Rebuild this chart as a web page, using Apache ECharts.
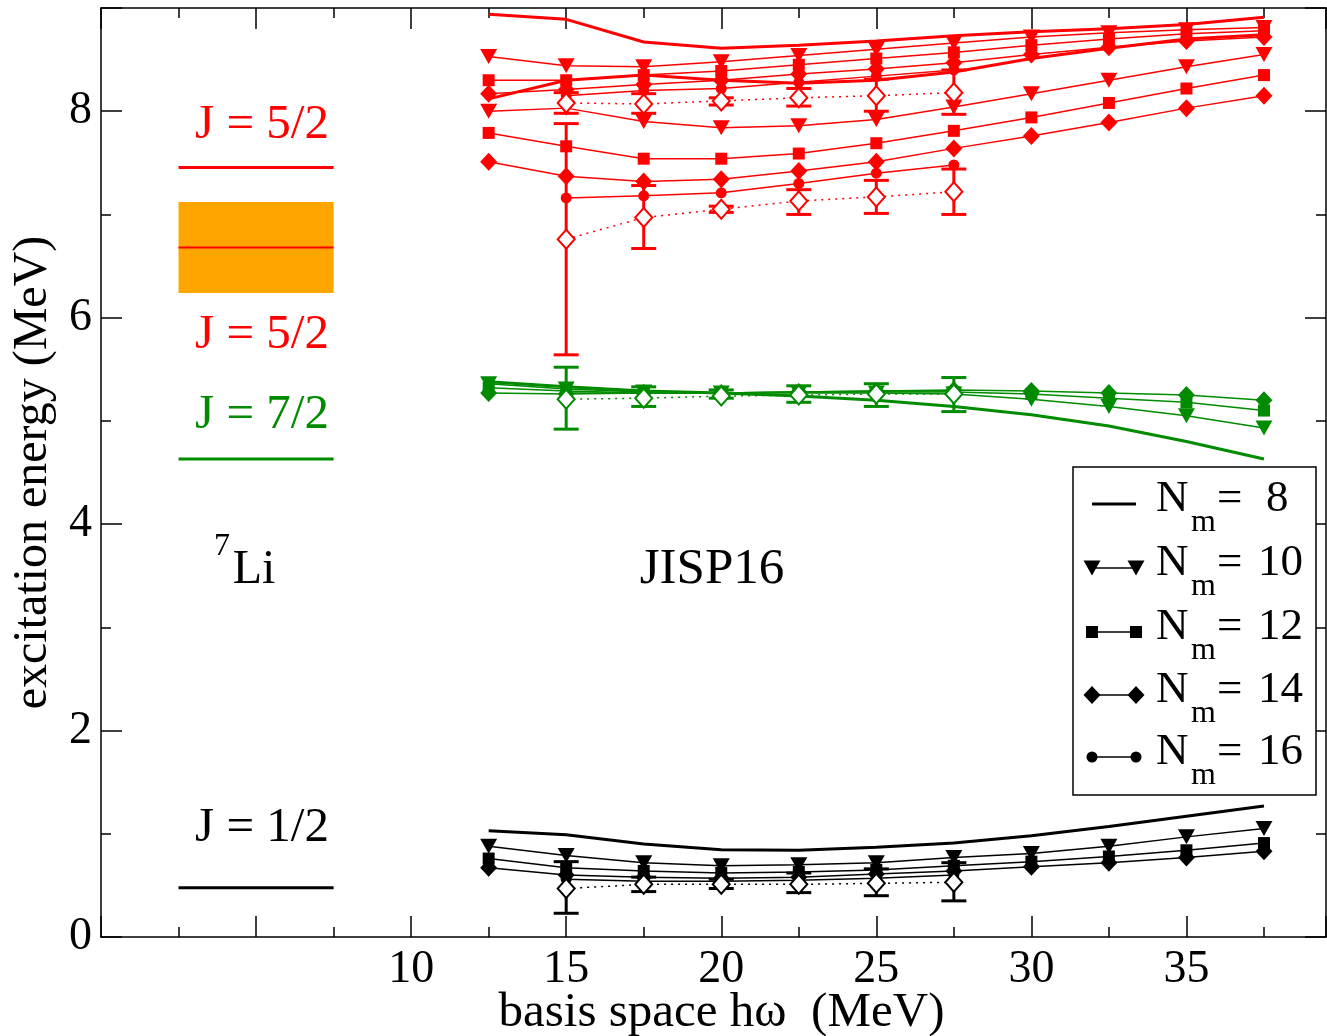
<!DOCTYPE html>
<html><head><meta charset="utf-8">
<script src="https://cdn.jsdelivr.net/npm/echarts@6/dist/echarts.min.js"></script>
<style>html,body{margin:0;padding:0;background:#fff}#c{width:1327px;height:1036px}</style>
</head><body><div id="c"></div>
<script>
// ---- data ----
const hw = [12.5, 15, 17.5, 20, 22.5, 25, 27.5, 30, 32.5, 35, 37.5];
const hw16 = [15, 17.5, 20, 22.5, 25, 27.5];
const xTicks = [10, 15, 20, 25, 30, 35];
const yTicks = [0, 2, 4, 6, 8];

// J=1/2 (black)
const blk8  = [1.03, 0.99, 0.90, 0.845, 0.84, 0.87, 0.91, 0.98, 1.07, 1.17, 1.27];
const blk10 = [0.88, 0.79, 0.72, 0.69, 0.70, 0.72, 0.77, 0.81, 0.88, 0.97, 1.05];
const blk12 = [0.76, 0.67, 0.64, 0.62, 0.63, 0.65, 0.69, 0.73, 0.78, 0.84, 0.91];
const blk14 = [0.67, 0.60, 0.58, 0.57, 0.58, 0.61, 0.64, 0.68, 0.72, 0.77, 0.83];
const blk16 = [0.56, 0.54, 0.54, 0.55, 0.57, 0.60];
const blkEx   = [0.47, 0.51, 0.51, 0.51, 0.52, 0.53];
const blkExLo = [0.23, 0.44, 0.47, 0.43, 0.40, 0.35];
const blkExHi = [0.73, 0.58, 0.56, 0.62, 0.66, 0.72];

// J=7/2 (green)
const grn8  = [5.38, 5.33, 5.29, 5.27, 5.24, 5.20, 5.14, 5.06, 4.95, 4.80, 4.63];
const grn10 = [5.36, 5.31, 5.28, 5.27, 5.27, 5.27, 5.26, 5.21, 5.14, 5.05, 4.93];
const grn12 = [5.32, 5.29, 5.27, 5.27, 5.28, 5.28, 5.28, 5.26, 5.22, 5.18, 5.10];
const grn14 = [5.27, 5.26, 5.27, 5.27, 5.28, 5.29, 5.30, 5.29, 5.27, 5.25, 5.20];
const grn16 = [5.27, 5.27, 5.27, 5.28, 5.29, 5.29];
const grnEx   = [5.21, 5.22, 5.24, 5.25, 5.26, 5.26];
const grnExLo = [4.92, 5.14, 5.22, 5.18, 5.14, 5.09];
const grnExHi = [5.52, 5.33, 5.30, 5.34, 5.36, 5.42];

// J=5/2 upper state (red)
const redA8  = [8.94, 8.89, 8.67, 8.61, 8.64, 8.68, 8.73, 8.77, 8.80, 8.84, 8.91];
const redA10 = [8.53, 8.44, 8.43, 8.48, 8.54, 8.60, 8.66, 8.72, 8.76, 8.79, 8.81];
const redA12 = [8.30, 8.30, 8.35, 8.39, 8.45, 8.51, 8.57, 8.64, 8.70, 8.75, 8.78];
const redA14 = [8.17, 8.21, 8.26, 8.30, 8.36, 8.41, 8.47, 8.55, 8.62, 8.68, 8.72];
const redA16 = [8.15, 8.20, 8.22, 8.28, 8.34, 8.40];
const redAEx   = [8.08, 8.07, 8.10, 8.13, 8.15, 8.18];
const redAExLo = [7.98, 7.98, 8.06, 8.05, 8.00, 7.97];
const redAExHi = [8.18, 8.17, 8.13, 8.22, 8.31, 8.40];

// J=5/2 lower state (red)
const redB8  = [8.12, 8.30, 8.35, 8.30, 8.27, 8.30, 8.38, 8.51, 8.61, 8.70, 8.74];
const redB10 = [8.00, 8.03, 7.90, 7.84, 7.86, 7.92, 8.04, 8.17, 8.30, 8.43, 8.55];
const redB12 = [7.79, 7.66, 7.54, 7.54, 7.59, 7.69, 7.81, 7.94, 8.08, 8.22, 8.35];
const redB14 = [7.51, 7.37, 7.32, 7.34, 7.42, 7.51, 7.64, 7.76, 7.89, 8.03, 8.15];
const redB16 = [7.16, 7.18, 7.21, 7.30, 7.40, 7.48];
const redBEx   = [6.76, 6.97, 7.05, 7.13, 7.17, 7.22];
const redBExLo = [5.64, 6.67, 7.02, 7.00, 7.01, 7.00];
const redBExHi = [7.88, 7.28, 7.08, 7.24, 7.33, 7.44];

// experiment (7Li)
const expX = [2.5, 7.5];
const expE = [0.478, 4.630, 6.680, 7.454];
const expColor = ['#000000', '#008b00', '#ff0000', '#ff0000'];
const expWidth = [3, 3, 2, 3];
const expBand = [6.24, 7.12];

// ---- build ----
const RED = '#ff0000', GRN = '#008b00', BLK = '#000000';
const FONT = '"Liberation Serif", "Times New Roman", serif';
const series = [];

series.push({
  type: 'custom', z: 1, silent: true,
  data: [[expX[0], expX[1], expBand[0], expBand[1]]],
  renderItem: function (p, api) {
    const a = api.coord([api.value(0), api.value(3)]);
    const b = api.coord([api.value(1), api.value(2)]);
    return { type: 'rect', shape: { x: a[0], y: a[1], width: b[0] - a[0], height: b[1] - a[1] },
      style: { fill: '#ffa500' } };
  }
});
expE.forEach(function (e, i) {
  series.push({ type: 'line', z: 3, symbol: 'none', silent: true,
    data: [[expX[0], e], [expX[1], e]],
    lineStyle: { color: expColor[i], width: expWidth[i] } });
});

function curve(xv, yv, color, kind) {
  const s = { type: 'line', data: xv.map(function (x, i) { return [x, yv[i]]; }),
    itemStyle: { color: color }, lineStyle: { color: color, width: 1.5 }, z: 4, silent: true };
  if (kind === 8) { s.symbol = 'none'; s.lineStyle.width = 3; }
  if (kind === 10) { s.symbol = 'triangle'; s.symbolRotate = 180; s.symbolSize = [17, 15]; }
  if (kind === 12) { s.symbol = 'rect'; s.symbolSize = 12; }
  if (kind === 14) { s.symbol = 'diamond'; s.symbolSize = [17, 18]; }
  if (kind === 16) { s.symbol = 'circle'; s.symbolSize = 11; }
  if (kind === 'ex') {
    s.symbol = 'emptyDiamond'; s.symbolSize = [17, 19]; s.z = 6;
    s.itemStyle = { color: color, borderColor: color, borderWidth: 2.5 };
    s.lineStyle = { color: color, width: 1.5, type: [2, 5] };
  }
  series.push(s);
}
function errbars(xv, lo, hi, color) {
  series.push({ type: 'custom', z: 5, silent: true,
    data: xv.map(function (x, i) { return [x, lo[i], hi[i]]; }),
    renderItem: function (p, api) {
      const a = api.coord([api.value(0), api.value(1)]);
      const b = api.coord([api.value(0), api.value(2)]);
      const w = 12.5, st = { stroke: color, lineWidth: 3 };
      return { type: 'group', children: [
        { type: 'line', shape: { x1: a[0], y1: a[1], x2: b[0], y2: b[1] }, style: st },
        { type: 'line', shape: { x1: a[0] - w, y1: a[1], x2: a[0] + w, y2: a[1] }, style: st },
        { type: 'line', shape: { x1: b[0] - w, y1: b[1], x2: b[0] + w, y2: b[1] }, style: st }
      ] };
    }
  });
}
function group(color, d8, d10, d12, d14, d16, ex, lo, hi) {
  curve(hw, d8, color, 8);
  curve(hw, d10, color, 10);
  curve(hw, d12, color, 12);
  curve(hw, d14, color, 14);
  curve(hw16, d16, color, 16);
  errbars(hw16, lo, hi, color);
  curve(hw16, ex, color, 'ex');
}
group(BLK, blk8, blk10, blk12, blk14, blk16, blkEx, blkExLo, blkExHi);
group(GRN, grn8, grn10, grn12, grn14, grn16, grnEx, grnExLo, grnExHi);
group(RED, redA8, redA10, redA12, redA14, redA16, redAEx, redAExLo, redAExHi);
group(RED, redB8, redB10, redB12, redB14, redB16, redBEx, redBExLo, redBExHi);

// ---- legend & annotations (graphic) ----
const graphic = [];
function txt(s, x, y, size, color, align) {
  graphic.push({ type: 'text', x: x, y: y, z: 100, silent: true,
    style: { text: s, font: size + 'px ' + FONT, fill: color,
      align: align || 'center', textAlign: align || 'center',
      verticalAlign: 'middle', textVerticalAlign: 'middle' } });
}
txt('J = 5/2', 262, 125, 49, RED);
txt('J = 5/2', 262, 335, 49, RED);
txt('J = 7/2', 262, 415, 49, GRN);
txt('J = 1/2', 262, 828, 49, BLK);
txt('7', 222, 547, 32, BLK);
txt('Li', 254, 570, 48, BLK);
txt('JISP16', 712, 570, 51, BLK);

graphic.push({ type: 'rect', z: 100, silent: true, shape: { x: 1073, y: 467, width: 243, height: 328 },
  style: { fill: '#fff', stroke: '#000', lineWidth: 1.5 } });
const legNums = ['8', '10', '12', '14', '16'];
const legKinds = [8, 10, 12, 14, 16];
const legRowY = [499, 563, 627, 690, 752];
function legSym(kind, cx, cy) {
  if (kind === 10) return { type: 'polygon', shape: { points: [[cx - 8.5, cy - 7.5], [cx + 8.5, cy - 7.5], [cx, cy + 7.5]] } };
  if (kind === 12) return { type: 'rect', shape: { x: cx - 6, y: cy - 6, width: 12, height: 12 } };
  if (kind === 14) return { type: 'polygon', shape: { points: [[cx - 8.5, cy], [cx, cy - 9], [cx + 8.5, cy], [cx, cy + 9]] } };
  return { type: 'circle', shape: { cx: cx, cy: cy, r: 5.5 } };
}
legKinds.forEach(function (k, i) {
  const y = legRowY[i];
  const ly = y + 5;
  graphic.push({ type: 'line', z: 101, silent: true, shape: { x1: 1092, y1: ly, x2: 1136, y2: ly },
    style: { stroke: '#000', lineWidth: k === 8 ? 3 : 1.5 } });
  if (k !== 8) {
    [1092, 1136].forEach(function (cx) {
      const s = legSym(k, cx, ly); s.z = 102; s.silent = true; s.style = { fill: '#000' };
      graphic.push(s);
    });
  }
  txt('N', 1156, y, 45, BLK, 'left');
  txt('m', 1191, y + 24, 32, BLK, 'left');
  txt('=', 1217, y, 45, BLK, 'left');
  txt(legNums[i], legNums[i].length === 1 ? 1266 : 1258, y, 45, BLK, 'left');
});

function axisCommon() {
  return {
    axisLine: { show: true, onZero: false, lineStyle: { color: '#000', width: 1.5 } },
    axisTick: { show: true, inside: true, length: 21, lineStyle: { color: '#000', width: 1.5 } },
    minorTick: { show: true, splitNumber: 2, length: 10, lineStyle: { color: '#000', width: 1.5 } },
    splitLine: { show: false }, minorSplitLine: { show: false }
  };
}

const option = {
  animation: false,
  backgroundColor: '#ffffff',
  grid: { left: 101, right: 1, top: 8, bottom: 99, containLabel: false, outerBoundsMode: 'none' },
  xAxis: [
    Object.assign({ type: 'value', min: 0, max: 39.5, interval: 5, position: 'bottom',
      name: 'basis space hω  (MeV)', nameLocation: 'middle', nameGap: 52, nameMoveOverlap: false,
      nameTextStyle: { fontFamily: FONT, fontSize: 49, color: '#000', padding: [0, 0, 0, 16] },
      axisLabel: { show: true, margin: 10, fontFamily: FONT, fontSize: 46, color: '#000', showMaxLabel: false,
        formatter: function (v) { return xTicks.indexOf(v) >= 0 ? String(v) : ''; } } }, axisCommon()),
    Object.assign({ type: 'value', min: 0, max: 39.5, interval: 5, position: 'top',
      axisLabel: { show: false } }, axisCommon())
  ],
  yAxis: [
    Object.assign({ type: 'value', min: 0, max: 9, interval: 2, position: 'left',
      name: 'excitation energy (MeV)', nameLocation: 'middle', nameGap: 44, nameMoveOverlap: false,
      nameTextStyle: { fontFamily: FONT, fontSize: 48, color: '#000' },
      axisLabel: { show: true, margin: 9, fontFamily: FONT, fontSize: 46, color: '#000', showMaxLabel: false,
        formatter: function (v) { return yTicks.indexOf(v) >= 0 ? String(v) : ''; } } }, axisCommon()),
    Object.assign({ type: 'value', min: 0, max: 9, interval: 2, position: 'right',
      axisLabel: { show: false } }, axisCommon())
  ],
  series: series,
  graphic: graphic
};
const chart = echarts.init(document.getElementById('c'), null, { renderer: 'canvas' });
chart.setOption(option);
</script>
</body></html>
